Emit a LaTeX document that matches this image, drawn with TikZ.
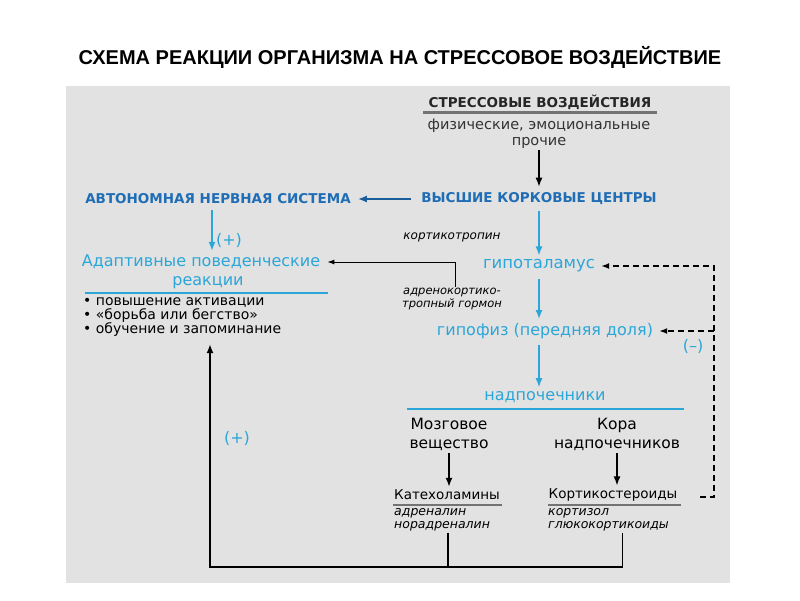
\documentclass[tikz,border=0pt]{standalone}
\usepackage{fontspec}
\setmainfont{DejaVu Sans}
\newfontfamily\titlefont{Liberation Sans}
\usetikzlibrary{arrows.meta}
\definecolor{boxgray}{HTML}{E2E2E2}
\definecolor{hdrblue}{HTML}{1E6DB5}
\definecolor{lcyan}{HTML}{2BA6D8}

\begin{document}
\begin{tikzpicture}[x=1pt, y=-1pt,
	hdr/.style={font=\bfseries\fontsize{13.5}{16}\selectfont, text=hdrblue, inner sep=1pt},
	txt/.style={font=\fontsize{16}{19}\selectfont, inner sep=1pt},
	small/.style={font=\itshape\fontsize{11.5}{13.5}\selectfont, inner sep=1pt},
	arr/.style={-{Latex[length=9pt, width=7pt]}, line width=1.5pt},
	cyanarr/.style={arr, lcyan, shorten <=5pt, shorten >=3pt},
	fb/.style={-{Latex[length=8pt, width=6pt]}, line width=1.5pt, dash pattern=on 6pt off 4pt}]
			\useasboundingbox (0,0) rectangle (800,600);
			\node[font=\titlefont\bfseries\fontsize{20}{24}\selectfont] (title) at (400,57) {СХЕМА РЕАКЦИИ ОРГАНИЗМА НА СТРЕССОВОЕ ВОЗДЕЙСТВИЕ};
			\fill[boxgray] (66,86) rectangle (730,583);
			\node[hdr, text=black!85] (stress) at (540,102) {СТРЕССОВЫЕ ВОЗДЕЙСТВИЯ};
			\draw[line width=3pt, black!55] (423,112) -- (657,112);
			\node[txt, font=\fontsize{14.5}{16}\selectfont, text=black!80, align=center] (phys) at (539,134) {физические, эмоциональные\\прочие};
			\node[hdr] (vkc) at (539,199) {ВЫСШИЕ КОРКОВЫЕ ЦЕНТРЫ};
			\node[hdr] (ans) at (218,199) {АВТОНОМНАЯ НЕРВНАЯ СИСТЕМА};
			\draw[arr, shorten >=5pt] (phys) -- (vkc);
			\draw[arr, hdrblue!85!black, shorten <=9pt, shorten >=6pt] (vkc) -- (ans);
			\node[txt, text=lcyan] (adapt) at (201,262) {Адаптивные поведенческие};
			\node[txt, text=lcyan] (reac) at (208,283) {реакции};
			\draw[lcyan, line width=1.5pt] (85,293) -- (328,293);
			\node[txt, font=\fontsize{14}{14}\selectfont, align=left, anchor=north west] (bullets) at (82,296) {• повышение активации\\• «борьба или бегство»\\• обучение и запоминание};
			\draw[cyanarr] ([xshift=-6pt]ans.south) -- ([xshift=-6pt]ans.south |- adapt.north) node[pos=0.72, right, text=lcyan, font=\fontsize{16}{16}\selectfont] (plusa) {(+)};
			\node[small, font=\itshape\fontsize{12}{14}\selectfont] (cortico) at (452,237) {кортикотропин};
			\node[small, align=center] (acth) at (452,299) {адренокортико-\\тропный гормон};
			\draw[-{Latex[length=7pt, width=5pt]}, line width=1pt, shorten >=6pt] ([xshift=3pt]acth.north) |- (adapt.east);
			\node[txt, font=\fontsize{16.5}{19}\selectfont, text=lcyan] (hyp) at (539,266) {гипоталамус};
			\node[txt, text=lcyan] (pit) at (545,331) {гипофиз (передняя доля)};
			\node[txt, text=lcyan] (adr) at (545,397) {надпочечники};
			\draw[lcyan, line width=2pt] (407,409) -- (684,409);
			\draw[cyanarr] (vkc) -- (hyp);
			\draw[cyanarr] (hyp) -- (hyp |- pit.north);
			\draw[cyanarr] (hyp |- pit.south) -- (hyp |- adr.north);
			\node[txt, font=\fontsize{15.5}{19}\selectfont, align=center] (medulla) at (449,434) {Мозговое\\вещество};
			\node[txt, font=\fontsize{15.5}{19}\selectfont, align=center] (cortex) at (617,434) {Кора\\надпочечников};
			\node[txt, font=\fontsize{13.5}{16}\selectfont] (cat) at (447,495) {Катехоламины};
			\node[txt, font=\fontsize{13.5}{16}\selectfont] (cort) at (613,495) {Кортикостероиды};
			\draw[arr, shorten <=2pt, shorten >=2pt] (medulla) -- (medulla |- cat.north);
			\draw[arr, shorten <=2pt, shorten >=2pt] (cortex) -- (cortex |- cort.north);
			\draw[black!55, line width=2pt] (393,505) -- (502,505);
			\draw[black!55, line width=2pt] (548,505) -- (681,505);
			\node[small, font=\itshape\fontsize{12.5}{13.5}\selectfont, align=left, anchor=north west] (catlist) at (393,507) {адреналин\\норадреналин};
			\node[small, font=\itshape\fontsize{12.5}{13.5}\selectfont, align=left, anchor=north west] (cortlist) at (547,507) {кортизол\\глюкокортикоиды};
			\coordinate (join) at (210,567);
			\draw[line width=1.5pt] ([xshift=6pt]catlist.south) -- ([xshift=6pt]catlist.south |- join);
			\draw[arr, shorten >=7pt] ([xshift=14pt]cortlist.south) |- (join) -- (join |- bullets.south);
			\node[text=lcyan, font=\fontsize{16}{16}\selectfont] (plusb) at (237,438) {(+)};
			\coordinate (fbend) at (700,497);
			\coordinate (fbtop) at (714,266);
			\draw[fb, shorten >=5pt] (fbend) -- (fbend -| fbtop) -- (fbtop) -- (hyp.east);
			\draw[fb, shorten >=5pt] (fbtop |- pit.east) -- (pit.east);
			\node[text=lcyan, font=\fontsize{16}{16}\selectfont] (minus) at (693,346) {(–)};
		\end{tikzpicture}
\end{document}
